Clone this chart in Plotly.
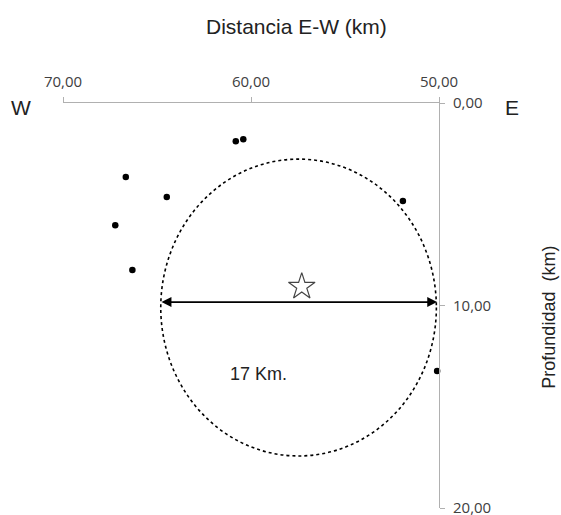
import plotly.graph_objects as go

# Hypocentres (distance E-W km, depth km)
dist_x = [60.81, 60.41, 66.66, 64.48, 51.92, 67.22, 66.31, 50.10]
depth_y = [1.89, 1.79, 3.65, 4.64, 4.84, 6.04, 8.25, 13.23]

# Main event (star)
star_x = [57.3]
star_y = [9.07]

# Circle of influence
circle_center = [57.47, 10.1]
circle_radius = [7.33, 7.33]  # x-radius, y-radius

# Diameter arrow
arrow_x = [64.84, 50.10]
arrow_y = [9.83, 9.83]
arrow_label = "17 Km."
label_pos = [59.6, 13.4]

x_ticks = [70, 60, 50]
y_ticks = [0, 10, 20]

fig = go.Figure()

fig.add_trace(go.Scatter(
    x=dist_x, y=depth_y, mode="markers",
    marker=dict(color="black", size=6.5), showlegend=False, cliponaxis=False))

fig.add_trace(go.Scatter(
    x=star_x, y=star_y, mode="markers",
    marker=dict(symbol="star-open", color="#444444", size=20, line=dict(width=1.2)),
    showlegend=False, cliponaxis=False))

fig.add_shape(type="circle", xref="x", yref="y",
              x0=circle_center[0] + circle_radius[0], x1=circle_center[0] - circle_radius[0],
              y0=circle_center[1] - circle_radius[1], y1=circle_center[1] + circle_radius[1],
              line=dict(color="black", width=1.6, dash="dot"))

fig.add_annotation(x=arrow_x[1], y=arrow_y[1], ax=arrow_x[0], ay=arrow_y[0],
                   xref="x", yref="y", axref="x", ayref="y",
                   showarrow=True, arrowhead=2, arrowside="end+start",
                   arrowsize=1.1, arrowwidth=1.8, arrowcolor="black", text="")

fig.add_annotation(x=label_pos[0], y=label_pos[1], xref="x", yref="y",
                   text=arrow_label, showarrow=False,
                   xanchor="center", yanchor="middle",
                   font=dict(family="Liberation Sans, Arial", size=18, color="#222222"))

fig.add_annotation(x=0.622, y=1.19, xref="paper", yref="paper", text="Distancia E-W (km)",
                   xanchor="center", yanchor="middle", showarrow=False,
                   font=dict(family="Liberation Sans, Arial", size=21, color="#222222"))
fig.add_annotation(x=1.2926, y=0.47, xref="paper", yref="paper", text="Profundidad  (km)",
                   xanchor="center", yanchor="middle",
                   textangle=-90, showarrow=False,
                   font=dict(family="Liberation Sans, Arial", size=18, color="#222222"))
fig.add_annotation(x=-0.112, y=0.99, xref="paper", yref="paper", text="W",
                   xanchor="center", yanchor="middle",
                   showarrow=False, font=dict(family="Liberation Sans, Arial", size=21, color="#222222"))
fig.add_annotation(x=1.194, y=0.99, xref="paper", yref="paper", text="E",
                   xanchor="center", yanchor="middle",
                   showarrow=False, font=dict(family="Liberation Sans, Arial", size=21, color="#222222"))

tick_font = dict(family="Open Sans, Lato", size=15, color="#404040")
fig.update_xaxes(range=[70, 50], side="top", tickvals=x_ticks, tickformat=".2f",
                 showline=True, linecolor="#b0b0b0", linewidth=1,
                 ticks="outside", ticklen=5, tickcolor="#b0b0b0",
                 ticklabelstandoff=4, ticklabeloverflow="allow", automargin=False,
                 showgrid=False, zeroline=False, tickfont=tick_font)
fig.update_yaxes(range=[20, 0], side="right", tickvals=y_ticks, tickformat=".2f",
                 showline=True, linecolor="#b0b0b0", linewidth=1,
                 ticks="outside", ticklen=5, tickcolor="#b0b0b0",
                 ticklabelstandoff=5, ticklabeloverflow="allow", automargin=False,
                 showgrid=False, zeroline=False, tickfont=tick_font)

fig.update_layout(width=561, height=515,
                  margin=dict(l=63, r=122, t=103, b=7, autoexpand=False),
                  plot_bgcolor="white", paper_bgcolor="white", separators=",.",
                  showlegend=False)

fig.write_html("out.html")
